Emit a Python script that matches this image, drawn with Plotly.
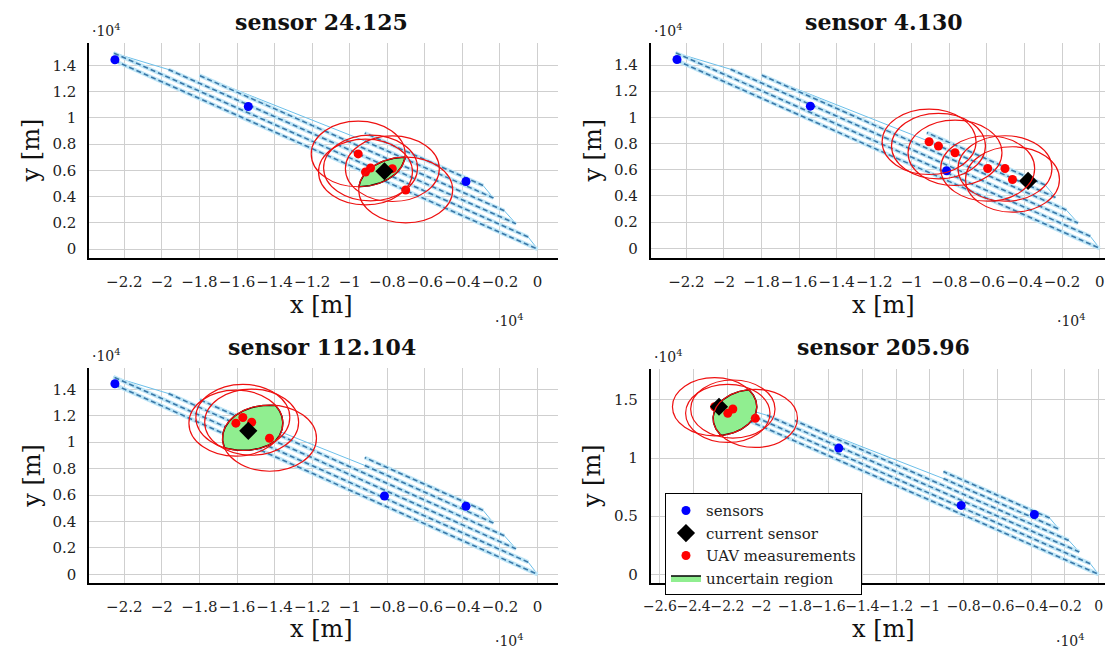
import numpy as np
import plotly.graph_objects as go

W, H = 1113, 649
OFF = 8  # page body margin
FW, FH = W - OFF, H - OFF

# ---------------- data (metres) ----------------
sensor_x = [-22500, -15400, -8150, -3810]
sensor_y = [14420, 10860, 5930, 5150]

panel_titles = ["sensor 24.125", "sensor 4.130", "sensor 112.104", "sensor 205.96"]
current_idx = [2, 3, 1, 0]

meas_x_1 = [-9550, -9160, -8890, -7730, -7020]
meas_y_1 = [7250, 5875, 6175, 6125, 4500]
meas_x_2 = [-9080, -8580, -7700, -5960, -5040, -4640]
meas_y_2 = [8140, 7810, 7300, 6100, 6100, 5260]
meas_x_3 = [-16060, -15690, -15220, -14270]
meas_y_3 = [11440, 11870, 11510, 10300]
meas_x_4 = [-22760, -21980, -21680, -20350]
meas_y_4 = [14420, 13850, 14220, 13420]
meas_radius = 2500

# UAV lawnmower path vertices (pass, turn, pass, turn, ...)
path_x = [-22520, 0, -500, -22580, -19650, -1150, -1770, -18000, -9200, -2350, -2900, -9200]
path_y = [14350, 0, 920, 14940, 13680, 1930, 2920, 13230, 8240, 3890, 4840, 8840]

x_ticks_a = [-22000, -20000, -18000, -16000, -14000, -12000, -10000, -8000, -6000, -4000, -2000, 0]
x_ticks_b = [-26000, -24000] + x_ticks_a
y_ticks_a = [0, 2000, 4000, 6000, 8000, 10000, 12000, 14000]
y_ticks_b = [0, 5000, 10000, 15000]


def lab(v):
    s = ("%g" % (abs(v) / 1e4))
    return ("\u2212" + s) if v < 0 else s


FONT = "DejaVu Serif"

panels = [
    dict(px=(81.7, 554.0, 43.0, 258.0), xr=[-23870, 1090], yr=[-680, 15700], xt=x_ticks_a, yt=y_ticks_a,
         mx=meas_x_1, my=meas_y_1),
    dict(px=(647.3, 1113.0, 43.3, 258.3), xr=[-23900, 710], yr=[-760, 15660], xt=x_ticks_a, yt=y_ticks_a,
         mx=meas_x_2, my=meas_y_2),
    dict(px=(81.7, 554.0, 368.3, 583.3), xr=[-23870, 1090], yr=[-680, 15590], xt=x_ticks_a, yt=y_ticks_a,
         mx=meas_x_3, my=meas_y_3),
    dict(px=(647.3, 1113.0, 369.3, 583.3), xr=[-26550, 850], yr=[-770, 17640], xt=x_ticks_b, yt=y_ticks_b,
         mx=meas_x_4, my=meas_y_4),
]


def uncertain_region(mx, my, r, n=240):
    cx = np.asarray(mx, float)
    cy = np.asarray(my, float)
    gx = np.linspace(cx.min() - r, cx.max() + r, 161)
    gy = np.linspace(cy.min() - r, cy.max() + r, 161)
    GX, GY = np.meshgrid(gx, gy)
    d = np.sqrt((GX[..., None] - cx) ** 2 + (GY[..., None] - cy) ** 2).max(axis=-1)
    k = np.argmin(d)
    if d.flat[k] >= r:
        return None
    px, py = GX.flat[k], GY.flat[k]
    th = np.linspace(0, 2 * np.pi, n)
    dx, dy = np.cos(th), np.sin(th)
    ts = []
    for x0, y0 in zip(cx, cy):
        ox, oy = px - x0, py - y0
        b = dx * ox + dy * oy
        c = ox * ox + oy * oy - r * r
        ts.append(-b + np.sqrt(b * b - c))
    t = np.min(np.array(ts), axis=0)
    return list(px + t * dx), list(py + t * dy)


def P(x, y):
    return (x - OFF) / FW, 1 - (y - OFF) / FH


fig = go.Figure()
layout_axes = {}
annotations = []
shapes = []

pass_x, pass_y, turn_x, turn_y = [], [], [], []
for i in range(0, len(path_x) - 1, 2):
    pass_x += [path_x[i], path_x[i + 1], None]
    pass_y += [path_y[i], path_y[i + 1], None]
for i in range(1, len(path_x) - 1, 2):
    turn_x += [path_x[i], path_x[i + 1], None]
    turn_y += [path_y[i], path_y[i + 1], None]

for k, p in enumerate(panels):
    L, R, T, B = p["px"]
    sfx = "" if k == 0 else str(k + 1)
    xa, ya = "x" + sfx, "y" + sfx
    is_legend = (k == 3)
    dl, dt = P(L, T)
    dr, db = P(R, B)
    layout_axes["xaxis" + sfx] = dict(
        domain=[max(dl, 0), min(dr, 1)], range=p["xr"], anchor=ya,
        tickmode="array", tickvals=p["xt"], ticktext=[lab(v) for v in p["xt"]],
        showgrid=True, gridcolor="#cfcfcf", gridwidth=1, zeroline=False,
        showline=True, linecolor="black", linewidth=1.5, ticks="", tickangle=0,
        ticklabelstandoff=9,
        tickfont=dict(family=FONT, size=15 if k < 3 else 14, color="#222"),
    )
    layout_axes["yaxis" + sfx] = dict(
        domain=[db, dt], range=p["yr"], anchor=xa,
        tickmode="array", tickvals=p["yt"], ticktext=[lab(v) for v in p["yt"]],
        showgrid=True, gridcolor="#cfcfcf", gridwidth=1, zeroline=False,
        showline=True, linecolor="black", linewidth=1.5, ticks="",
        ticklabelstandoff=8,
        tickfont=dict(family=FONT, size=15, color="#222"),
    )

    # trajectory
    fig.add_trace(go.Scatter(x=turn_x, y=turn_y, mode="lines", xaxis=xa, yaxis=ya,
                             line=dict(color="#6cc0ea", width=1), showlegend=False, hoverinfo="skip"))
    fig.add_trace(go.Scatter(x=pass_x, y=pass_y, mode="lines", xaxis=xa, yaxis=ya,
                             line=dict(color="#bfe6f7", width=4), showlegend=False, hoverinfo="skip"))
    fig.add_trace(go.Scatter(x=pass_x, y=pass_y, mode="lines", xaxis=xa, yaxis=ya,
                             line=dict(color="#3a78a8", width=1.6, dash="5px,3px"),
                             showlegend=False, hoverinfo="skip"))

    # uncertain region
    reg = uncertain_region(p["mx"], p["my"], meas_radius)
    if reg is not None:
        fig.add_trace(go.Scatter(x=reg[0], y=reg[1], mode="lines", fill="toself",
                                 fillcolor="#90ee90", line=dict(color="black", width=1.5),
                                 xaxis=xa, yaxis=ya, name="uncertain region",
                                 showlegend=is_legend, legendrank=4))

    # measurement circles
    for cx, cy in zip(p["mx"], p["my"]):
        shapes.append(dict(type="circle", xref=xa, yref=ya,
                           x0=cx - meas_radius, x1=cx + meas_radius,
                           y0=cy - meas_radius, y1=cy + meas_radius,
                           line=dict(color="#ee1111", width=1.2), layer="above"))

    ci = current_idx[k]
    sx = [v for j, v in enumerate(sensor_x) if j != ci]
    sy = [v for j, v in enumerate(sensor_y) if j != ci]
    fig.add_trace(go.Scatter(x=sx, y=sy, mode="markers", xaxis=xa, yaxis=ya,
                             marker=dict(color="#0000ff", size=9), name="sensors",
                             showlegend=is_legend, legendrank=1))
    fig.add_trace(go.Scatter(x=p["mx"], y=p["my"], mode="markers", xaxis=xa, yaxis=ya,
                             marker=dict(color="#ff0000", size=9), name="UAV measurements",
                             showlegend=is_legend, legendrank=3))
    fig.add_trace(go.Scatter(x=[sensor_x[ci]], y=[sensor_y[ci]], mode="markers", xaxis=xa, yaxis=ya,
                             marker=dict(color="black", size=14, symbol="diamond"),
                             name="current sensor", showlegend=is_legend, legendrank=2))

    cxp = 316 if k in (0, 2) else 882
    ttl_y = 22 if k < 2 else 347
    ax_, ay_ = P(cxp, ttl_y)
    annotations.append(dict(text="<b>" + panel_titles[k] + "</b>", x=ax_, y=ay_, xref="paper", yref="paper",
                            showarrow=False, xanchor="center", yanchor="middle",
                            font=dict(family=FONT, size=22, color="#111")))
    lx, ly = P(cxp, 305 if k < 2 else 629)
    annotations.append(dict(text="x [m]", x=lx, y=ly, xref="paper", yref="paper", showarrow=False,
                            xanchor="center", yanchor="middle", font=dict(family=FONT, size=24, color="#111")))
    yx, yy = P(24 if k in (0, 2) else 589, (T + B) / 2)
    annotations.append(dict(text="y [m]", x=yx, y=yy, xref="paper", yref="paper", showarrow=False,
                            textangle=-90, xanchor="center", yanchor="middle",
                            font=dict(family=FONT, size=24, color="#111")))
    ex, ey = P(L + 1, T - 13)
    annotations.append(dict(text="\u00b710<sup>4</sup>", x=ex, y=ey, xref="paper", yref="paper",
                            showarrow=False, xanchor="left", yanchor="middle",
                            font=dict(family=FONT, size=14, color="#222")))
    zero_px = L + (0 - p["xr"][0]) / (p["xr"][1] - p["xr"][0]) * (R - L)
    bx, by = P(zero_px - 28, 320 if k < 2 else 640)
    annotations.append(dict(text="\u00b710<sup>4</sup>", x=bx, y=by, xref="paper", yref="paper",
                            showarrow=False, xanchor="center", yanchor="middle",
                            font=dict(family=FONT, size=14, color="#222")))

lgx, lgy = P(661.7, 493.3)
fig.update_layout(
    width=FW, height=FH,
    margin=dict(l=0, r=0, t=0, b=0),
    paper_bgcolor="white", plot_bgcolor="white",
    shapes=shapes, annotations=annotations,
    legend=dict(x=lgx, y=lgy, xanchor="left", yanchor="top", bgcolor="white",
                bordercolor="black", borderwidth=1, tracegroupgap=0, itemwidth=30,
                entrywidth=160, entrywidthmode="pixels",
                font=dict(family=FONT, size=15, color="#222")),
    **layout_axes,
)

fig.write_html("out.html")
